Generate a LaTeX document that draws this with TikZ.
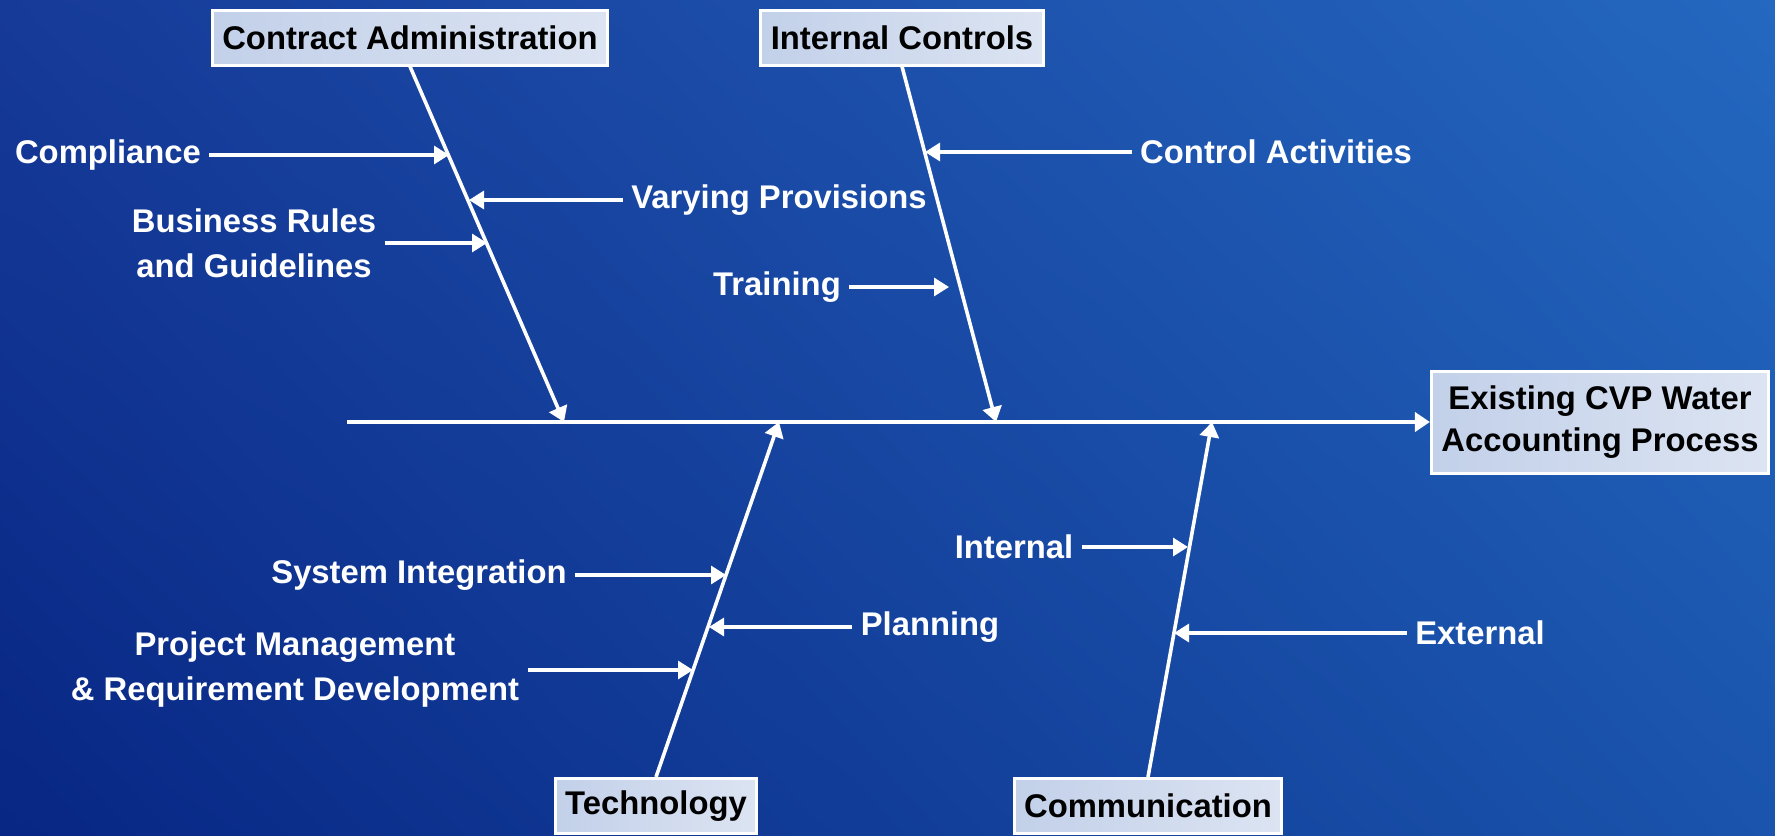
\documentclass[tikz,border=0pt]{standalone}
\usepackage{fontspec}
\setmainfont{Liberation Sans}
\usetikzlibrary{arrows.meta,shadings}

\definecolor{bgTL}{RGB}{22,58,152}
\definecolor{bgTR}{RGB}{36,104,192}
\definecolor{bgBL}{RGB}{8,38,132}
\definecolor{bgBR}{RGB}{26,84,172}
\definecolor{boxL}{RGB}{194,208,233}
\definecolor{boxR}{RGB}{220,228,242}

\tikzstyle{cause} = [rectangle, draw=white, line width=1.5pt, left color=boxL, right color=boxR,
    text=black, font=\bfseries\fontsize{16.4}{21}\selectfont, align=center,
    inner xsep=5pt, minimum height=27.5pt]
\tikzstyle{subcause} = [text=white, font=\bfseries\fontsize{16.4}{22.5}\selectfont, align=center, inner sep=4pt]
\tikzstyle{bone} = [draw=white, line width=1.8pt, -{Triangle[length=7.5pt,width=9.5pt]}]
\tikzstyle{twig} = [draw=white, line width=1.6pt, -{Triangle[length=7.5pt,width=9pt]}]

\begin{document}
\begin{tikzpicture}[x=0.5pt, y=-0.5pt]
    \useasboundingbox (0,0) rectangle (1775,835);
    \shade [upper left=bgTL, upper right=bgTR, lower left=bgBL, lower right=bgBR] (0,0) rectangle (1775,835);

    % causes and effect
    \node [cause] (contract) at (410,37.5) {Contract Administration};
    \node [cause] (controls) at (902,37.5) {Internal Controls};
    \node [cause] (technology) at (656,806) {Technology};
    \node [cause] (communication) at (1148,806) {Communication};
    \node [cause, minimum height=51pt] (effect) at (1600,422) {Existing CVP Water\\Accounting Process};

    % spine
    \coordinate (tail) at (347,422);
    \coordinate (sContract) at (564,422);
    \coordinate (sControls) at (996,422);
    \coordinate (sTech) at (779,422);
    \coordinate (sComm) at (1212,422);
    \path [bone, line width=2pt] (tail) -- (effect);

    % bones
    \path [bone] (contract.south) -- (sContract);
    \path [bone] (controls.south) -- (sControls);
    \path [bone] (technology.north) -- (sTech);
    \path [bone] (communication.north) -- (sComm);

    % sub-causes
    \node [subcause] (compliance) at (108,155) {Compliance};
    \node [subcause] (varying) at (779,200) {Varying Provisions};
    \node [subcause] (business) at (254,243) {Business Rules\\and Guidelines};
    \node [subcause] (control) at (1276,152) {Control Activities};
    \node [subcause] (training) at (777,287) {Training};
    \node [subcause] (sysint) at (419,575) {System Integration};
    \node [subcause] (planning) at (930,627) {Planning};
    \node [subcause] (projman) at (295,670) {Project Management\\\& Requirement Development};
    \node [subcause] (internal) at (1014,547) {Internal};
    \node [subcause] (external) at (1480,633) {External};

    \coordinate (tCompliance) at (449,155);
    \coordinate (tVarying) at (469,200);
    \coordinate (tBusiness) at (487,243);
    \coordinate (tControl) at (925,152);
    \coordinate (tTraining) at (949,287);
    \coordinate (tSysint) at (726,575);
    \coordinate (tPlanning) at (709,627);
    \coordinate (tProjman) at (693,670);
    \coordinate (tInternal) at (1188,547);
    \coordinate (tExternal) at (1174,633);

    \path [twig] (compliance) -- (tCompliance);
    \path [twig] (varying) -- (tVarying);
    \path [twig] (business) -- (tBusiness);
    \path [twig] (control) -- (tControl);
    \path [twig] (training) -- (tTraining);
    \path [twig] (sysint) -- (tSysint);
    \path [twig] (planning) -- (tPlanning);
    \path [twig] (projman) -- (tProjman);
    \path [twig] (internal) -- (tInternal);
    \path [twig] (external) -- (tExternal);
\end{tikzpicture}
\end{document}
